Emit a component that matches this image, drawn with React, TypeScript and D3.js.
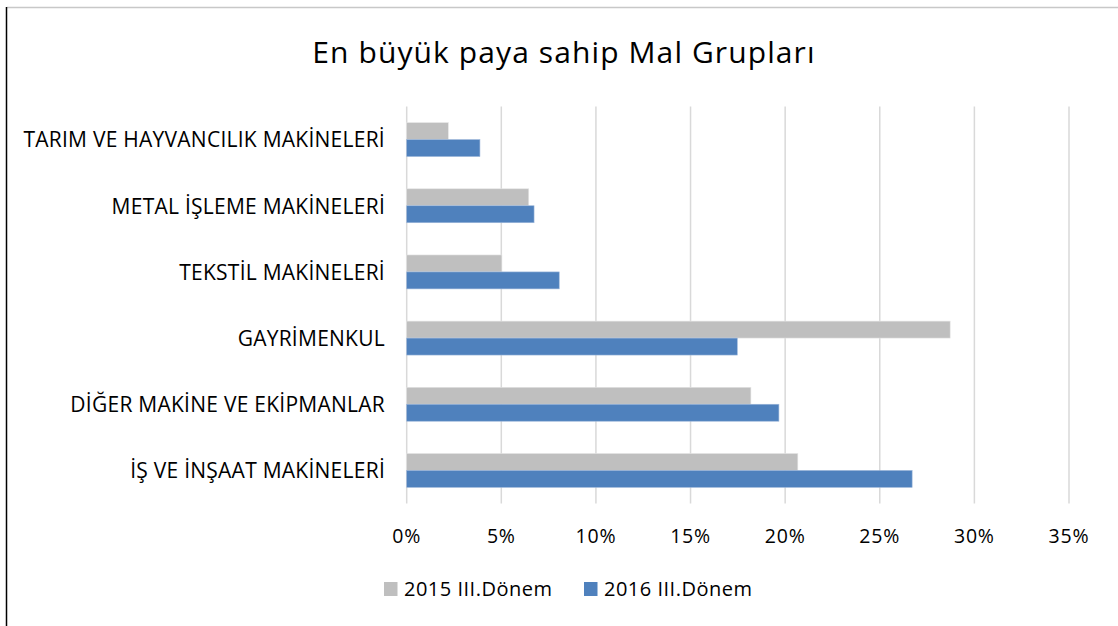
import React from "react";
import * as d3 from "d3";

const categories = [
  "TARIM VE HAYVANCILIK MAKİNELERİ",
  "METAL İŞLEME MAKİNELERİ",
  "TEKSTİL MAKİNELERİ",
  "GAYRİMENKUL",
  "DİĞER MAKİNE VE EKİPMANLAR",
  "İŞ VE İNŞAAT MAKİNELERİ",
];
const series2015 = [2.2, 6.45, 5.03, 28.72, 18.19, 20.67];
const series2016 = [3.87, 6.73, 8.06, 17.47, 19.67, 26.71];
const seriesNames = ["2015 III.Dönem", "2016 III.Dönem"];
const xTicks = [0, 5, 10, 15, 20, 25, 30, 35];

const colors = ["#BFBFBF", "#4F81BD"];
const FONT = "'Open Sans', sans-serif";

export default function App() {
  const W = 1118;
  const H = 626;
  const left = 406.7;
  const right = 1069;
  const top = 106.5;
  const bottom = 503.5;

  const x = d3.scaleLinear().domain([0, 35]).range([left, right]);
  const y = d3.scaleBand<string>().domain(categories).range([top, bottom]).paddingInner(0.487).paddingOuter(0.2435);
  const sub = d3.scaleBand<number>().domain([0, 1]).range([0, y.bandwidth()]);
  const data = [series2015, series2016];

  return (
    <svg width={W} height={H} style={{ position: "absolute", left: 0, top: 0 }} fontFamily={FONT}>
      <rect x={0} y={0} width={W} height={H} fill="#fff" />
      <line x1={7} x2={W} y1={7.5} y2={7.5} stroke="#C8C8C8" strokeWidth={1.5} />
      <line x1={6.5} x2={6.5} y1={7} y2={H} stroke="#000" strokeWidth={1.5} />
      <text x={564} y={62.7} textAnchor="middle" fontSize={30} letterSpacing={1.1} fill="#000">
        En büyük paya sahip Mal Grupları
      </text>
      {xTicks.map((t) => (
        <line key={t} x1={x(t)} x2={x(t)} y1={top} y2={bottom} stroke="#D9D9D9" strokeWidth={1.5} />
      ))}
      {categories.map((c, i) => (
        <g key={c}>
          {data.map((s, k) => (
            <rect
              key={k}
              x={x(0)}
              y={(y(c) as number) + (sub(k) as number)}
              width={x(s[i]) - x(0)}
              height={sub.bandwidth()}
              fill={colors[k]}
              stroke={k === 0 ? "#E6E6E6" : "#9DB7DA"}
              strokeWidth={0.6}
            />
          ))}
          <text
            x={385}
            y={(y(c) as number) + y.bandwidth() / 2 + 7.8}
            textAnchor="end"
            fontSize={21}
            letterSpacing={0.25}
            fill="#000"
          >
            {c}
          </text>
        </g>
      ))}
      {xTicks.map((t) => (
        <text key={t} x={x(t)} y={542.7} textAnchor="middle" fontSize={19.5} letterSpacing={0.8} fill="#000">
          {t + "%"}
        </text>
      ))}
      {seriesNames.map((n, k) => {
        const lx = [384, 584][k];
        return (
          <g key={n}>
            <rect x={lx} y={582} width={13.5} height={14} fill={colors[k]} />
            <text x={lx + 20} y={596} fontSize={20} letterSpacing={0.5} fill="#000">
              {n}
            </text>
          </g>
        );
      })}
    </svg>
  );
}
